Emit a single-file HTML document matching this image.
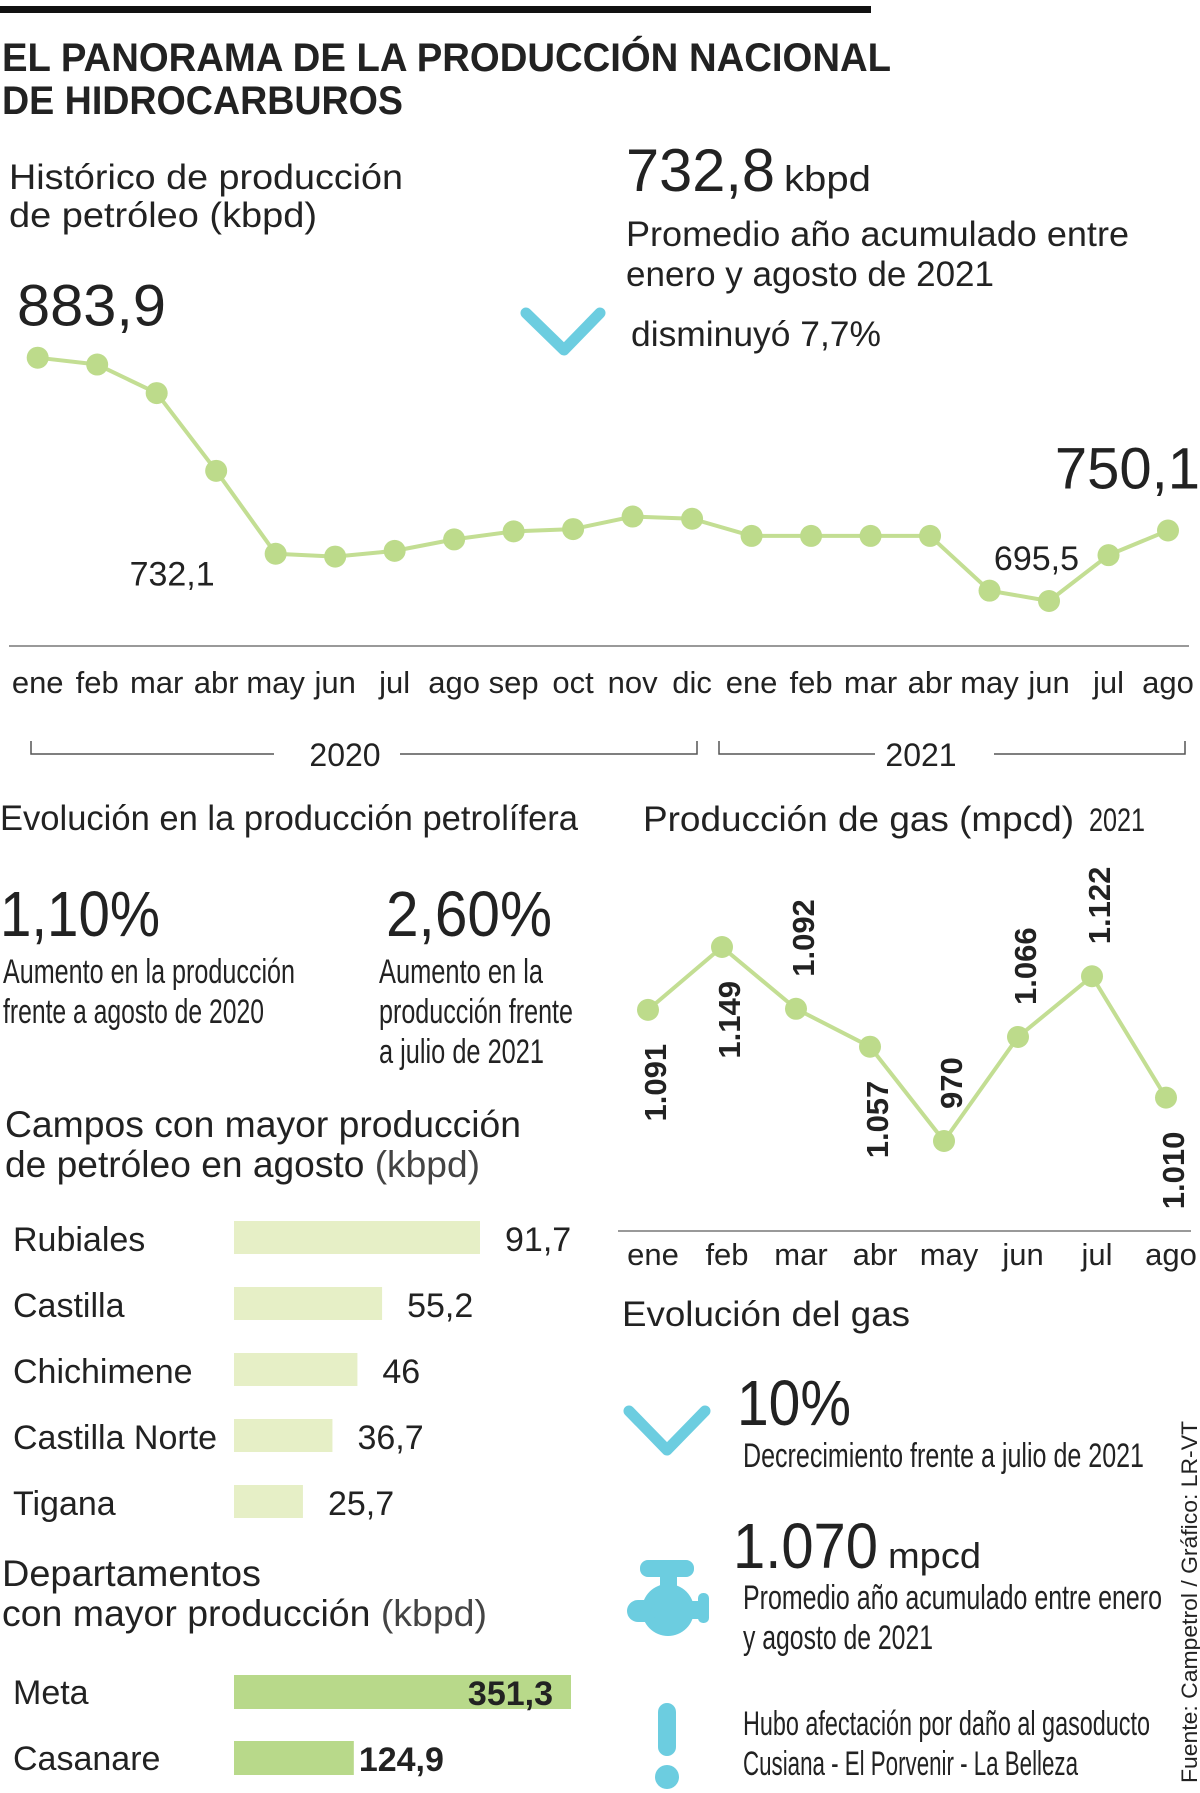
<!DOCTYPE html>
<html><head><meta charset="utf-8">
<style>
html,body{margin:0;padding:0;background:#fff;}
svg{display:block;}
text{font-family:"Liberation Sans",sans-serif;fill:#222;}
.c{font-family:"Liberation Sans Narrow","Liberation Sans",sans-serif;}
</style></head>
<body>
<svg id="root" width="1200" height="1793" viewBox="0 0 1200 1793" xmlns="http://www.w3.org/2000/svg">
<rect x="0" y="0" width="1200" height="1793" fill="#fff"/>
<rect x="0" y="6" width="871" height="7" fill="#111"/>
<text x="2" y="71" font-size="40" font-weight="bold" fill="#111" textLength="889" lengthAdjust="spacingAndGlyphs">EL PANORAMA DE LA PRODUCCIÓN NACIONAL</text>
<text x="2" y="114" font-size="40" font-weight="bold" fill="#111" textLength="401" lengthAdjust="spacingAndGlyphs">DE HIDROCARBUROS</text>

<text x="9" y="189" font-size="35" textLength="394" lengthAdjust="spacingAndGlyphs">Histórico de producción</text>
<text x="9" y="227" font-size="35" textLength="308" lengthAdjust="spacingAndGlyphs">de petróleo (kbpd)</text>

<text x="626" y="191" font-size="60" textLength="149" lengthAdjust="spacingAndGlyphs">732,8</text>
<text x="784" y="191" font-size="36" textLength="87" lengthAdjust="spacingAndGlyphs">kbpd</text>
<text x="626" y="246" font-size="35" fill="#333" textLength="503" lengthAdjust="spacingAndGlyphs">Promedio año acumulado entre</text>
<text x="626" y="286" font-size="35" fill="#333" textLength="368" lengthAdjust="spacingAndGlyphs">enero y agosto de 2021</text>
<polyline points="526,313 564,350 600,313" fill="none" stroke="#6ccde0" stroke-width="11" stroke-linecap="round" stroke-linejoin="round"/>
<text x="631" y="346" font-size="35" fill="#333" textLength="250" lengthAdjust="spacingAndGlyphs">disminuyó 7,7%</text>

<g id="oil"></g>

<text x="0" y="830" font-size="35" textLength="578" lengthAdjust="spacingAndGlyphs">Evolución en la producción petrolífera</text>
<text x="0" y="936" font-size="64" textLength="160" lengthAdjust="spacingAndGlyphs">1,10%</text>
<text x="386" y="936" font-size="64" textLength="166" lengthAdjust="spacingAndGlyphs">2,60%</text>
<text class="c" x="3" y="983" font-size="34" fill="#333" textLength="292" lengthAdjust="spacingAndGlyphs">Aumento en la producción</text>
<text class="c" x="3" y="1023" font-size="34" fill="#333" textLength="261" lengthAdjust="spacingAndGlyphs">frente a agosto de 2020</text>
<text class="c" x="379" y="983" font-size="34" fill="#333" textLength="164" lengthAdjust="spacingAndGlyphs">Aumento en la</text>
<text class="c" x="379" y="1023" font-size="34" fill="#333" textLength="194" lengthAdjust="spacingAndGlyphs">producción frente</text>
<text class="c" x="379" y="1063" font-size="34" fill="#333" textLength="165" lengthAdjust="spacingAndGlyphs">a julio de 2021</text>

<text x="5" y="1137" font-size="37" textLength="516" lengthAdjust="spacingAndGlyphs">Campos con mayor producción</text>
<text x="5" y="1177" font-size="37" textLength="475" lengthAdjust="spacingAndGlyphs">de petróleo en agosto <tspan fill="#444">(kbpd)</tspan></text>
<g id="fields"></g>

<text x="2" y="1586" font-size="37" textLength="259" lengthAdjust="spacingAndGlyphs">Departamentos</text>
<text x="2" y="1626" font-size="37" textLength="485" lengthAdjust="spacingAndGlyphs">con mayor producción <tspan fill="#444">(kbpd)</tspan></text>
<g id="depts"></g>

<text x="643" y="831" font-size="35" textLength="431" lengthAdjust="spacingAndGlyphs">Producción de gas (mpcd)</text>
<text class="c" x="1089" y="831" font-size="32" fill="#333" textLength="56" lengthAdjust="spacingAndGlyphs">2021</text>
<g id="gas"></g>

<text x="622" y="1326" font-size="35" textLength="288" lengthAdjust="spacingAndGlyphs">Evolución del gas</text>
<polyline points="629,1411 667,1450 705,1411" fill="none" stroke="#6ccde0" stroke-width="11" stroke-linecap="round" stroke-linejoin="round"/>
<text x="737" y="1425" font-size="64" textLength="114" lengthAdjust="spacingAndGlyphs">10%</text>
<text class="c" x="743" y="1467" font-size="34" fill="#333" textLength="401" lengthAdjust="spacingAndGlyphs">Decrecimiento frente a julio de 2021</text>

<g fill="#6ccde0">
<rect x="640" y="1560" width="54" height="17" rx="8"/>
<rect x="660" y="1574" width="17" height="18"/>
<circle cx="668" cy="1610" r="26"/>
<rect x="627" y="1600" width="30" height="22" rx="11"/>
<rect x="680" y="1601" width="24" height="18"/>
<rect x="698" y="1593" width="11" height="30" rx="5"/>
</g>
<text x="733" y="1568" font-size="64" textLength="145" lengthAdjust="spacingAndGlyphs">1.070</text>
<text x="888" y="1568" font-size="36" textLength="93" lengthAdjust="spacingAndGlyphs">mpcd</text>
<text class="c" x="743" y="1609" font-size="34" fill="#333" textLength="419" lengthAdjust="spacingAndGlyphs">Promedio año acumulado entre enero</text>
<text class="c" x="743" y="1649" font-size="34" fill="#333" textLength="190" lengthAdjust="spacingAndGlyphs">y agosto de 2021</text>

<g fill="#6ccde0">
<rect x="658" y="1703" width="18" height="53" rx="9"/>
<circle cx="667" cy="1777" r="12"/>
</g>
<text class="c" x="743" y="1735" font-size="34" fill="#333" textLength="407" lengthAdjust="spacingAndGlyphs">Hubo afectación por daño al gasoducto</text>
<text class="c" x="743" y="1775" font-size="34" fill="#333" textLength="335" lengthAdjust="spacingAndGlyphs">Cusiana - El Porvenir - La Belleza</text>

<text transform="translate(1197,1783) rotate(-90)" x="0" y="0" font-size="22" fill="#333" textLength="362" lengthAdjust="spacingAndGlyphs">Fuente: Campetrol / Gráfico: LR-VT</text>
</svg>
<script>
var NS='http://www.w3.org/2000/svg';
// ---- oil chart data ----
var oilMonths=['ene','feb','mar','abr','may','jun','jul','ago','sep','oct','nov','dic','ene','feb','mar','abr','may','jun','jul','ago'];
var oilValues=[883.9,878.6,856.5,796.3,732.1,729.9,734.3,743.2,749.4,751.2,760.9,759.2,745.9,745.9,745.9,745.9,703.5,695.5,731.0,750.1];
var oilLabels=[{i:0,t:'883,9',big:true},{i:4,t:'732,1',big:false},{i:17,t:'695,5',big:false},{i:19,t:'750,1',big:true}];
// ---- gas chart data ----
var gasMonths=['ene','feb','mar','abr','may','jun','jul','ago'];
var gasValues=[1091,1149,1092,1057,970,1066,1122,1010];
var gasLabelText=['1.091','1.149','1.092','1.057','970','1.066','1.122','1.010'];
var gasLabelSide=['below','below','above','below','above','above','above','below'];
// ---- bars data ----
var fieldNames=['Rubiales','Castilla','Chichimene','Castilla Norte','Tigana'];
var fieldValues=[91.7,55.2,46,36.7,25.7];
var fieldLabels=['91,7','55,2','46','36,7','25,7'];
var deptNames=['Meta','Casanare'];
var deptValues=[351.3,124.9];
var deptLabels=['351,3','124,9'];

function mk(tag,parent,attrs){var e=document.createElementNS(NS,tag);for(var k in attrs)e.setAttribute(k,attrs[k]);parent.appendChild(e);return e;}

// oil chart
(function(){
var g=document.getElementById('oil');
function ox(i){return 37.7+i*(1168-37.7)/(oilMonths.length-1);}
function oy(v){return 357.7+(883.9-v)*(601-357.7)/(883.9-695.5);}
var pts=oilValues.map(function(v,i){return ox(i)+','+oy(v);}).join(' ');
var line=mk('polyline',g,{points:pts,fill:'none',stroke:'#c3de93','stroke-width':4,'stroke-linejoin':'round'});


oilValues.forEach(function(v,i){
 var c=mk('circle',g,{cx:ox(i),cy:oy(v),r:11,fill:'#bddb8b'});
 
 
 var t=mk('text',g,{x:ox(i),y:693,'font-size':31,'text-anchor':'middle','class':'c',fill:'#333'});
 t.textContent=oilMonths[i];
 
 
});
oilLabels.forEach(function(L){
 var x=ox(L.i),y=oy(oilValues[L.i]);
 var t;
 if(L.big){
  if(L.i===0){t=mk('text',g,{x:17,y:y-32,'font-size':58,textLength:149,lengthAdjust:'spacingAndGlyphs'});}
  else{t=mk('text',g,{x:1200,y:y-42,'font-size':58,'text-anchor':'end'});}
 } else {
  if(L.i===4){t=mk('text',g,{x:x-61,y:y+32,'font-size':34,'text-anchor':'end'});}
  else{t=mk('text',g,{x:x+30,y:y-31,'font-size':34,'text-anchor':'end'});}
 }
 t.textContent=L.t;
 
 
});
var ax=mk('line',g,{x1:9,y1:646,x2:1189,y2:646,stroke:'#999','stroke-width':2});


var br=mk('path',g,{d:'M31,741V754H274M400,754H697V741M719,741V754H875M994,754H1185V741',fill:'none',stroke:'#555','stroke-width':1.5});


var y1=mk('text',g,{x:345,y:766,'font-size':32,'text-anchor':'middle','class':'c',fill:'#333'});y1.textContent='2020';


var y2=mk('text',g,{x:921,y:766,'font-size':32,'text-anchor':'middle','class':'c',fill:'#333'});y2.textContent='2021';


})();

// gas chart
(function(){
var g=document.getElementById('gas');
function gx(i){return 648+i*(1166-648)/(gasMonths.length-1);}
function gy(v){return 947+(1149-v)*(1141-947)/(1149-970);}
var pts=gasValues.map(function(v,i){return gx(i)+','+gy(v);}).join(' ');
var line=mk('polyline',g,{points:pts,fill:'none',stroke:'#c3de93','stroke-width':4,'stroke-linejoin':'round'});


gasValues.forEach(function(v,i){
 var x=gx(i),y=gy(v);
 var c=mk('circle',g,{cx:x,cy:y,r:11,fill:'#bddb8b'});
 
 
 var lx=x+18, ly;
 var t;
 if(gasLabelSide[i]==='below'){ly=y+34;t=mk('text',g,{transform:'translate('+lx+','+ly+') rotate(-90)','font-size':31,'text-anchor':'end','font-weight':'bold',fill:'#222'});}
 else{ly=y-32;t=mk('text',g,{transform:'translate('+lx+','+ly+') rotate(-90)','font-size':31,'text-anchor':'start','font-weight':'bold',fill:'#222'});}
 t.textContent=gasLabelText[i];
 
 
 var m=mk('text',g,{x:x+5,y:1265,'font-size':31,'text-anchor':'middle','class':'c',fill:'#333'});
 m.textContent=gasMonths[i];
 
 
});
var ax=mk('line',g,{x1:618,y1:1231,x2:1191,y2:1231,stroke:'#999','stroke-width':2});


})();

// fields bars
(function(){
var g=document.getElementById('fields');
var x0=234,k=246/91.7;
fieldValues.forEach(function(v,i){
 var top=1221+i*66;
 var r=mk('rect',g,{x:x0,y:top,width:v*k,height:33,fill:'#e6efc6'});
 
 
 var n=mk('text',g,{x:13,y:top+30,'font-size':34,fill:'#333'});
 n.textContent=fieldNames[i];
 
 
 var l=mk('text',g,{x:x0+v*k+25,y:top+30,'font-size':34,fill:'#333'});
 l.textContent=fieldLabels[i];
 
 
});
})();

// dept bars
(function(){
var g=document.getElementById('depts');
var x0=234,k=337/351.3;
deptValues.forEach(function(v,i){
 var top=1675+i*66;
 var w=v*k;
 var r=mk('rect',g,{x:x0,y:top,width:w,height:34,fill:'#b8d98a'});
 
 
 var n=mk('text',g,{x:13,y:top+29,'font-size':34,fill:'#333'});
 n.textContent=deptNames[i];
 
 
 var inside=w>200;
 var l=mk('text',g,{x:inside?x0+w-18:x0+w+5,y:top+30,'font-size':34,'font-weight':'bold',fill:'#111','text-anchor':inside?'end':'start'});
 l.textContent=deptLabels[i];
 
 
});
})();
</script>
</body></html>
